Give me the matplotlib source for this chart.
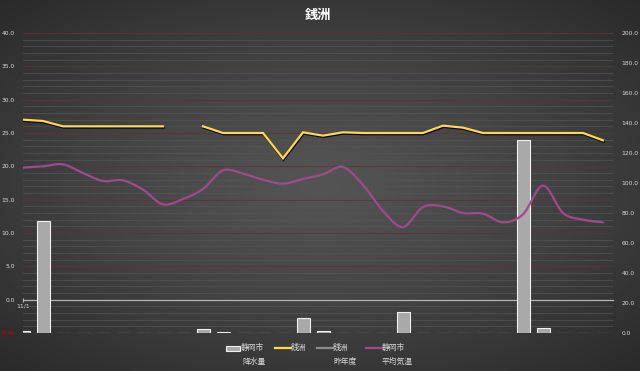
import numpy as np
import matplotlib.pyplot as plt
from matplotlib import patheffects as pe
from matplotlib.lines import Line2D
from matplotlib.patches import Rectangle

W, H = 640, 371
JP = ['Noto Sans CJK JP', 'DejaVu Sans']

# November, one value per day
days = np.arange(30)
date_labels = ['11/1']

# 静岡市 降水量 (mm, right axis)
rain = [1.5, 74.5, 0, 0, 0, 0, 0, 0, 0, 3, 1, 0, 0, 0, 10, 1.5, 0, 0, 0, 14,
        0, 0, 0, 0, 0, 129, 3.5, 0, 0, 0]

# 銭洲 water temperature (left axis), day 9 missing
zenisu = [27.0, 26.8, 26.0, 26.0, 26.0, 26.0, 26.0, 26.0, np.nan, 26.0,
          25.0, 25.0, 25.0, 21.2, 25.1, 24.6, 25.1, 25.0, 25.0, 25.0,
          25.0, 26.1, 25.8, 25.0, 25.0, 25.0, 25.0, 25.0, 25.0, 23.9]

# 銭洲 昨年度 (no data shown)
zenisu_last = [np.nan] * 30

# 静岡市 平均気温
shizuoka_temp = [19.8, 20.0, 20.3, 19.0, 17.8, 17.9, 16.5, 14.3, 15.1, 16.6,
                 19.4, 18.9, 18.0, 17.4, 18.1, 18.8, 19.9, 17.2, 13.3, 10.9,
                 13.9, 14.0, 13.0, 12.9, 11.6, 12.8, 17.1, 13.0, 12.0, 11.6]


def smooth(x, y, n=16):
    # catmull-rom, like Excel's smoothed line
    pts = np.column_stack([x, y]).astype(float)
    P = np.vstack([pts[0], pts, pts[-1]])
    t = np.linspace(0, 1, n, endpoint=False)[:, None]
    out = []
    for i in range(len(pts) - 1):
        p0, p1, p2, p3 = P[i], P[i + 1], P[i + 2], P[i + 3]
        seg = 0.5 * (2 * p1 + (-p0 + p2) * t + (2 * p0 - 5 * p1 + 4 * p2 - p3) * t ** 2
                     + (-p0 + 3 * p1 - 3 * p2 + p3) * t ** 3)
        out.append(seg)
    out.append(pts[-1:])
    out = np.vstack(out)
    return out[:, 0], out[:, 1]


def px(x, y):
    return x / W, 1 - y / H


fig = plt.figure(figsize=(6.4, 3.71), dpi=100)

# dark radial background
bg = fig.add_axes([0, 0, 1, 1], zorder=-10)
gx, gy = np.meshgrid(np.linspace(-1, 1, 320), np.linspace(-1, 1, 186))
r = np.clip(np.sqrt((gx * 0.95) ** 2 + (gy * 1.0) ** 2), 0, 1.4)
shade = 0.33 - 0.17 * (r / 1.4) ** 1.2
bg.imshow(np.dstack([shade] * 3), aspect='auto', extent=[0, 1, 0, 1])
bg.axis('off')

rect = [23 / W, (H - 333) / H, 590 / W, 300 / H]
ax = fig.add_axes(rect)
ax.patch.set_visible(False)
ax_rain = ax.twinx()
ax_line = fig.add_axes(rect, sharex=ax, sharey=ax)
ax_line.patch.set_visible(False)
ax_line.axis('off')

# temperature axis (left)
ax.set_xlim(0, 29.5)
ax.set_ylim(-5, 40)
yt = np.arange(-5, 41, 5)
ylabels = ['(%.1f)' % abs(v) if v < 0 else '%.1f' % v for v in yt]
ax.set_yticks(yt, ylabels)
ax.set_yticks(np.arange(-5, 41, 1), minor=True)
ax.tick_params(axis='y', which='both', length=0, pad=6, labelsize=4.3, labelcolor='#d9d9d9')
ax.get_yticklabels()[0].set_color('#d00000')
ax.grid(axis='y', which='minor', color='#545454', lw=0.5)
ax.grid(axis='y', which='major', color='#5e3434', lw=0.6)

ax.spines['bottom'].set_position(('data', 0))
ax.spines['bottom'].set_color('#b5b5b5')
ax.spines['bottom'].set_linewidth(0.9)
for s in ['top', 'right', 'left']:
    ax.spines[s].set_visible(False)
ax.set_xticks([0], date_labels)
ax.tick_params(axis='x', length=3, direction='inout', color='#b5b5b5', labelsize=4.3,
               labelcolor='#d9d9d9', pad=1.5)

# rain axis (right)
ax_rain.set_ylim(0, 200)
ax_rain.set_yticks(np.arange(0, 201, 20), ['%.1f' % v for v in np.arange(0, 201, 20)])
ax_rain.tick_params(axis='y', length=0, pad=6, labelsize=4.3, labelcolor='#d9d9d9')
for s in ax_rain.spines.values():
    s.set_visible(False)
ax_rain.bar(days, rain, width=0.65, color='#a9a9a9', edgecolor='#f0f0f0', linewidth=0.8,
            path_effects=[pe.SimplePatchShadow(offset=(1, -1), shadow_rgbFace='black', alpha=0.6),
                          pe.Normal()])

# lines on top of bars
sx, sy = smooth(days, shizuoka_temp)
ax_line.plot(sx, sy, color='#a04a8c', lw=1.6, solid_capstyle='round')
ax_line.plot(days, zenisu_last, color='#8c8c8c', lw=1.6)
ax_line.plot(days, zenisu, color='#ffd84a', lw=1.6, solid_joinstyle='miter',
             path_effects=[pe.SimpleLineShadow(offset=(0.4, -0.9), shadow_color='#050520', alpha=1.0),
                           pe.Normal()])

fig.text(*px(318, 15), '銭洲', ha='center', va='center', fontsize=9.5, fontweight='bold',
         color='white', family=JP)

# legend, drawn by hand
lc = '#d9d9d9'
fs = 5.6
fig.patches.append(Rectangle(px(226, 351), 14 / W, 5 / H, transform=fig.transFigure,
                             facecolor='#a9a9a9', edgecolor='#f0f0f0', lw=0.8))
fig.text(*px(241, 348), '静岡市', fontsize=fs, color=lc, family=JP, va='center')
fig.text(*px(242, 362), '降水量', fontsize=fs, color=lc, family=JP, va='center')
items = [(275, '#ffd84a', ['銭洲']),
         (317, '#8c8c8c', ['銭洲', '昨年度']),
         (366, '#a04a8c', ['静岡市', '平均気温'])]
for x0, col, txt in items:
    (xa, ya), (xb, yb) = px(x0, 348), px(x0 + 16, 348)
    fig.lines.append(Line2D([xa, xb], [ya, yb], transform=fig.transFigure, color=col, lw=1.6))
    for k, t in enumerate(txt):
        fig.text(*px(x0 + 16, 348 + 14 * k), t, fontsize=fs, color=lc, family=JP, va='center')

fig.savefig('out.png', dpi=100)
